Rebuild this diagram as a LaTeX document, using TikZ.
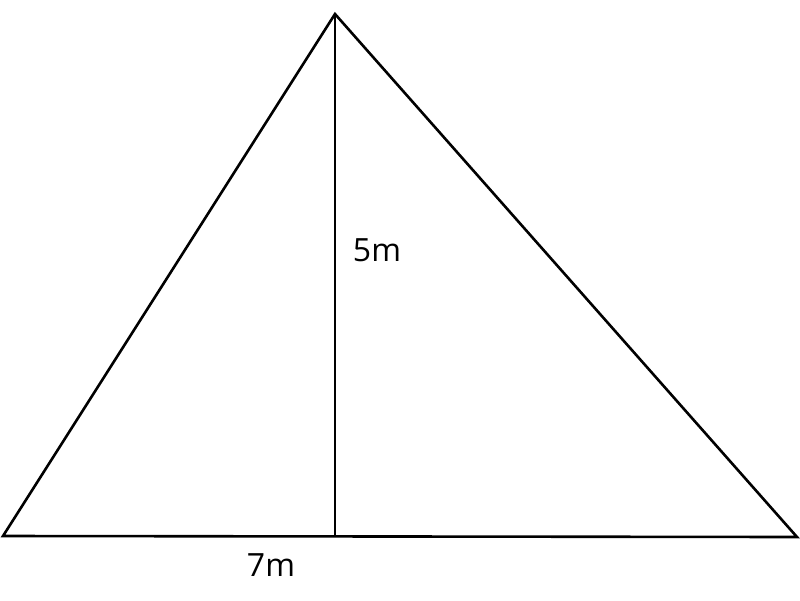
\documentclass[tikz,border=0pt]{standalone}
\usepackage{fontspec}
\setmainfont{Open Sans}
\begin{document}
\begin{tikzpicture}[x=1pt,y=-1pt,
  edge/.style={line width=2.6pt,line join=miter},
  lbl/.style={font=\fontsize{32}{38}\selectfont,inner sep=0pt}]
\useasboundingbox (0,0) rectangle (800,600);
\coordinate (A) at (335,14);
\coordinate (B) at (3,536);
\coordinate (C) at (797,537);
\coordinate (H) at (335,536.5);
\draw[edge] (B) -- (A) -- (C) -- cycle;
\draw[edge] (A) -- (H);
\node[lbl] (h) at (377,250) {5m};
\node[lbl] (b) at (271,565) {7m};
\end{tikzpicture}
\end{document}
